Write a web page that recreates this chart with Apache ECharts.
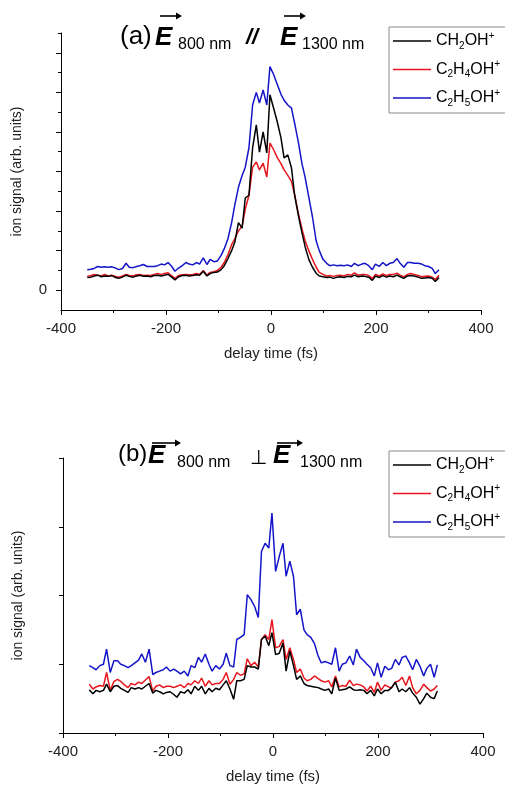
<!DOCTYPE html>
<html>
<head>
<meta charset="utf-8">
<script src="https://cdn.jsdelivr.net/npm/echarts@6/dist/echarts.min.js"></script>
<style>
  html, body { margin: 0; padding: 0; background: #fff; }
  #chart { width: 505px; height: 785px; }
</style>
</head>
<body>
<div id="chart"></div>
<script>
// delay time axis (fs), shared by both panels
var delays = [
  -350,-343,-337,-330,-323,-317,-310,-303,-296,-290,
  -283,-276,-270,-263,-256,-250,-243,-236,-229,-223,
  -216,-209,-203,-196,-189,-183,-176,-169,-162,-156,
  -149,-142,-136,-129,-122,-116,-109,-102,-95,-89,
  -82,-75,-69,-62,-55,-49,-42,-35,-28,-22,
  -15,-8,-2,5,12,19,25,32,39,45,
  52,59,65,72,79,86,92,99,106,112,
  119,126,132,139,146,153,159,166,173,179,
  186,193,199,206,213,220,226,233,240,246,
  253,260,266,273,280,287,293,300,307,313,
  320
];

var seriesNames = ['CH2OH+', 'C2H4OH+', 'C2H5OH+'];

// (a) parallel polarisation
var aCH2OH = [
  0.32,0.33,0.36,0.38,0.34,0.36,0.35,0.37,0.32,0.30,
  0.33,0.38,0.35,0.33,0.36,0.38,0.35,0.36,0.34,0.37,
  0.38,0.36,0.38,0.40,0.33,0.26,0.34,0.37,0.38,0.36,
  0.37,0.39,0.38,0.48,0.36,0.42,0.45,0.46,0.52,0.62,
  0.80,1.00,1.21,1.71,1.57,2.33,2.40,3.60,4.18,3.49,
  4.00,3.47,4.94,4.60,4.25,3.85,3.34,3.42,3.09,2.40,
  1.90,1.45,1.10,0.78,0.58,0.43,0.36,0.34,0.32,0.33,
  0.30,0.33,0.34,0.32,0.35,0.34,0.38,0.34,0.36,0.35,
  0.33,0.25,0.36,0.32,0.37,0.33,0.36,0.34,0.38,0.34,
  0.30,0.36,0.37,0.36,0.33,0.30,0.31,0.32,0.30,0.22,
  0.32
];
var aC2H4OH = [
  0.35,0.37,0.40,0.38,0.36,0.40,0.36,0.38,0.35,0.33,
  0.36,0.40,0.37,0.36,0.39,0.40,0.37,0.38,0.37,0.40,
  0.42,0.40,0.42,0.44,0.36,0.30,0.37,0.39,0.40,0.39,
  0.40,0.42,0.40,0.50,0.38,0.45,0.47,0.50,0.58,0.70,
  0.90,1.15,1.30,1.50,1.62,2.05,2.40,3.11,3.24,3.04,
  3.21,2.86,3.72,3.55,3.35,3.20,3.04,2.90,2.75,2.42,
  1.95,1.55,1.25,1.00,0.78,0.58,0.45,0.40,0.36,0.37,
  0.35,0.37,0.38,0.36,0.40,0.38,0.44,0.38,0.40,0.40,
  0.37,0.30,0.40,0.36,0.41,0.37,0.40,0.40,0.43,0.38,
  0.34,0.40,0.42,0.40,0.37,0.34,0.35,0.36,0.33,0.27,
  0.38
];
var aC2H5OH = [
  0.52,0.53,0.55,0.60,0.58,0.59,0.58,0.59,0.56,0.52,
  0.55,0.68,0.58,0.57,0.60,0.62,0.65,0.60,0.60,0.60,
  0.62,0.66,0.64,0.70,0.60,0.48,0.56,0.62,0.70,0.66,
  0.64,0.70,0.66,0.82,0.65,0.78,0.72,0.74,0.88,1.05,
  1.30,1.71,2.15,2.60,2.90,3.11,3.60,4.68,5.00,4.73,
  5.06,4.68,5.65,5.45,5.20,4.95,4.80,4.68,4.60,4.22,
  3.75,3.20,2.85,2.35,1.85,1.25,1.00,0.78,0.68,0.62,
  0.64,0.62,0.63,0.62,0.64,0.60,0.68,0.62,0.66,0.68,
  0.62,0.52,0.66,0.60,0.70,0.62,0.68,0.70,0.80,0.68,
  0.58,0.70,0.70,0.68,0.68,0.66,0.62,0.60,0.55,0.42,
  0.52
];

// (b) perpendicular polarisation
var bCH2OH = [
  0.63,0.57,0.62,0.60,0.62,0.71,0.60,0.68,0.69,0.65,
  0.62,0.59,0.66,0.64,0.66,0.64,0.68,0.72,0.58,0.62,
  0.60,0.57,0.59,0.60,0.56,0.52,0.60,0.58,0.63,0.57,
  0.68,0.62,0.68,0.57,0.65,0.60,0.65,0.63,0.70,0.76,
  0.64,0.49,0.76,0.76,0.78,0.98,0.96,0.96,0.93,1.36,
  1.41,1.27,1.46,1.14,1.16,1.31,0.90,1.19,0.98,0.78,
  0.83,0.72,0.69,0.68,0.67,0.66,0.64,0.62,0.64,0.57,
  0.80,0.62,0.63,0.64,0.67,0.63,0.62,0.63,0.62,0.57,
  0.62,0.54,0.64,0.57,0.62,0.62,0.66,0.74,0.60,0.64,
  0.60,0.66,0.58,0.52,0.42,0.50,0.58,0.52,0.50,0.61
];
var bC2H4OH = [
  0.71,0.64,0.67,0.69,0.68,0.88,0.62,0.75,0.78,0.75,
  0.70,0.66,0.72,0.70,0.74,0.72,0.77,0.82,0.61,0.68,
  0.70,0.66,0.68,0.68,0.66,0.68,0.70,0.66,0.72,0.70,
  0.76,0.72,0.80,0.68,0.76,0.70,0.72,0.72,0.78,0.88,
  0.71,0.78,0.88,0.84,0.86,1.08,0.98,1.03,0.96,1.36,
  1.43,1.36,1.65,1.24,1.26,1.36,1.07,1.24,1.07,0.88,
  0.93,0.80,0.76,0.78,0.83,0.79,0.76,0.74,0.76,0.67,
  0.83,0.67,0.69,0.68,0.77,0.69,0.71,0.70,0.67,0.61,
  0.68,0.59,0.74,0.62,0.70,0.67,0.66,0.74,0.76,0.81,
  0.69,0.83,0.66,0.57,0.62,0.71,0.66,0.61,0.64,0.69
];
var bC2H5OH = [
  0.98,0.95,0.92,0.98,1.00,1.22,0.88,1.05,1.05,1.00,
  0.98,0.95,0.98,1.02,1.06,1.15,1.03,1.22,0.85,0.88,
  0.90,0.92,0.96,0.90,0.93,0.90,0.86,0.90,0.83,0.98,
  0.95,1.10,1.03,1.15,1.00,0.90,0.98,0.93,1.00,1.16,
  0.98,0.96,1.36,1.39,1.43,2.01,1.94,1.84,1.68,2.64,
  2.76,2.69,3.20,2.35,2.57,2.76,2.28,2.50,2.28,1.72,
  1.80,1.50,1.43,1.39,1.30,1.12,1.02,1.04,1.02,1.00,
  1.24,0.90,1.00,1.02,1.12,0.99,1.22,1.10,1.05,1.00,
  0.95,0.83,1.02,0.81,0.97,0.92,0.94,1.07,0.99,1.10,
  1.12,1.02,0.92,1.07,0.97,0.83,0.94,1.00,0.81,0.99
];

var xTickLabels = [-400, -200, 0, 200, 400];

var colors = ['#000000', '#e8161c', '#1414c8'];
var legendText = {
  'CH2OH+': 'CH{sub|2}OH{sup|+}',
  'C2H4OH+': 'C{sub|2}H{sub|4}OH{sup|+}',
  'C2H5OH+': 'C{sub|2}H{sub|5}OH{sup|+}'
};

function pairs(ys) {
  return ys.map(function (v, i) { return [delays[i], v]; });
}

var axisFont = 'Liberation Sans, Arial, sans-serif';

function xAxisFor(gi) {
  return {
    type: 'value', gridIndex: gi, min: -400, max: 400, interval: 200,
    axisLine: { onZero: false, lineStyle: { color: '#000', width: 1 } },
    axisTick: { length: 5, lineStyle: { color: '#000' } },
    minorTick: { show: true, splitNumber: 2, length: 3, lineStyle: { color: '#000' } },
    splitLine: { show: false },
    axisLabel: {
      fontSize: 15, color: '#222', margin: 11, fontFamily: axisFont,
      customValues: xTickLabels
    },
    name: 'delay time (fs)', nameLocation: 'middle', nameGap: 36,
    nameTextStyle: { fontSize: 15, color: '#222', fontFamily: axisFont }
  };
}

function legendFor(top) {
  return {
    orient: 'vertical', left: 389, top: top,
    data: seriesNames, icon: 'rect',
    backgroundColor: '#fff', borderColor: '#8a8a8a', borderWidth: 1, borderRadius: 0,
    padding: [4, 6, 5, 4], itemWidth: 38, itemHeight: 1.5, itemGap: 8.5,
    formatter: function (name) { return legendText[name]; },
    textStyle: {
      fontSize: 16, color: '#000', fontFamily: axisFont, lineHeight: 20,
      rich: {
        sub: { fontSize: 10, fontFamily: axisFont, color: '#000', verticalAlign: 'bottom', lineHeight: 10 },
        sup: { fontSize: 10, fontFamily: axisFont, color: '#000', verticalAlign: 'top', lineHeight: 10 }
      }
    }
  };
}

// title pieces: [text, x, baseline, size, bold italic?]
function titlePieces(items, arrows) {
  var els = [];
  items.forEach(function (p) {
    els.push({
      type: 'text', x: p[1], y: p[2] - 0.35 * p[3],
      style: {
        text: p[0], fill: '#000', verticalAlign: 'middle', align: 'left',
        font: (p[4] ? 'italic bold ' : '') + p[3] + 'px ' + axisFont
      }
    });
  });
  arrows.forEach(function (a) {
    els.push({ type: 'line', shape: { x1: a[0], y1: a[2], x2: a[1] - 2, y2: a[2] },
      style: { stroke: '#000', lineWidth: 1.6 } });
    els.push({ type: 'polygon', shape: { points: [[a[1] - 5, a[2] - 3.5], [a[1] + 1, a[2]], [a[1] - 5, a[2] + 3.5]] },
      style: { fill: '#000' } });
  });
  return els;
}

var graphics = [].concat(
  titlePieces([
    ['(a)', 120, 46, 26, false],
    ['E', 155, 47, 26, true],
    ['800 nm', 178, 50, 16, false],
    ['//', 246, 46, 22, true],
    ['E', 280, 47, 26, true],
    ['1300 nm', 302, 50, 16, false]
  ], [[160, 181, 16], [284, 305, 16]]),
  titlePieces([
    ['(b)', 118, 463, 24, false],
    ['E', 148, 465, 26, true],
    ['800 nm', 177, 468, 16, false],
    ['\u22A5', 250, 465, 20, false],
    ['E', 273, 465, 26, true],
    ['1300 nm', 300, 468, 16, false]
  ], [[152, 180, 443], [277, 302, 443]])
);

var series = [];
[[aCH2OH, aC2H4OH, aC2H5OH], [bCH2OH, bC2H4OH, bC2H5OH]].forEach(function (set, gi) {
  set.forEach(function (ys, k) {
    series.push({
      type: 'line', name: seriesNames[k], xAxisIndex: gi, yAxisIndex: gi === 0 ? 0 : 2,
      data: pairs(ys), symbol: 'none', smooth: false,
      lineStyle: { color: colors[k], width: 1.5 }, itemStyle: { color: colors[k] },
      z: 2 + (2 - k)
    });
  });
});

var chart = echarts.init(document.getElementById('chart'), null, { renderer: 'canvas' });
chart.setOption({
  animation: false,
  backgroundColor: '#fff',
  grid: [
    { left: 61, top: 33, width: 420, height: 277 },
    { left: 63, top: 458, width: 420, height: 276 }
  ],
  xAxis: [xAxisFor(0), xAxisFor(1)],
  yAxis: [
    {
      type: 'value', gridIndex: 0, min: -0.5, max: 6.5, position: 'left',
      axisLine: { onZero: false, lineStyle: { color: '#000' } },
      axisTick: { length: 5, customValues: [0, 1, 2, 3, 4, 5, 6], lineStyle: { color: '#000' } },
      axisLabel: { customValues: [0], fontSize: 15, color: '#222', margin: 14, fontFamily: axisFont },
      splitLine: { show: false },
      name: 'ion signal (arb. units)', nameLocation: 'middle', nameGap: 37, nameRotate: 90,
      nameTextStyle: { fontSize: 14, color: '#222', fontFamily: axisFont }
    },
    {
      type: 'value', gridIndex: 0, min: -0.5, max: 6.5, position: 'left',
      axisLine: { show: false, onZero: false },
      axisTick: { length: 3, customValues: [0.5, 1.5, 2.5, 3.5, 4.5, 5.5, 6.5], lineStyle: { color: '#000' } },
      axisLabel: { show: false },
      splitLine: { show: false }
    },
    {
      type: 'value', gridIndex: 1, min: 0, max: 4, interval: 1,
      axisLine: { onZero: false, lineStyle: { color: '#000' } },
      axisTick: { length: 4, lineStyle: { color: '#000' } },
      axisLabel: { show: false },
      splitLine: { show: false },
      name: 'ion signal (arb. units)', nameLocation: 'middle', nameGap: 38, nameRotate: 90,
      nameTextStyle: { fontSize: 14, color: '#222', fontFamily: axisFont }
    }
  ],
  legend: [legendFor(27), legendFor(451)],
  graphic: graphics,
  series: series
});
</script>
</body>
</html>
